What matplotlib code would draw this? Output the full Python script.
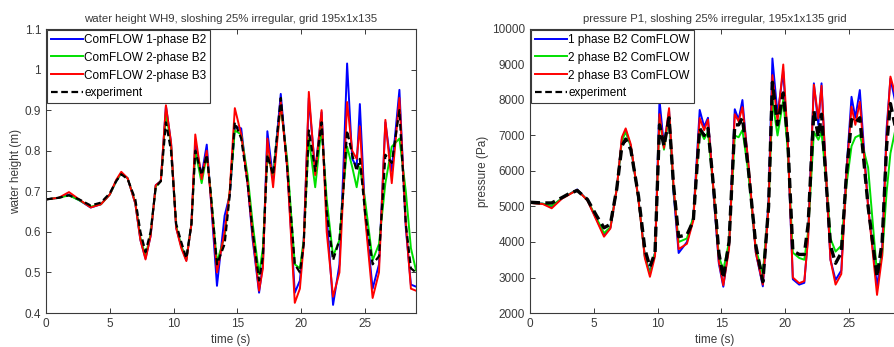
import numpy as np
import matplotlib
matplotlib.use("Agg")
import matplotlib.pyplot as plt
from matplotlib.ticker import FormatStrFormatter

plt.rcParams['font.family'] = ['Liberation Sans', 'DejaVu Sans']

# ---- water height WH9 (left panel) ----
t_wh = [0, 1, 1.8, 2.6, 3.5, 4.3, 5.0, 5.5, 5.9, 6.4, 7.0, 7.4, 7.8, 8.2, 8.6, 9.0,
        9.4, 9.8, 10.2, 10.6, 11.0, 11.4, 11.7, 12.2, 12.6, 12.9, 13.4, 14.0, 14.4,
        14.8, 15.3, 15.8, 16.2, 16.7, 17.0, 17.35, 17.8, 18.4, 18.9, 19.5, 19.9,
        20.2, 20.6, 21.1, 21.6, 22.0, 22.5, 23.0, 23.3, 23.6, 24.0, 24.35, 24.6,
        25.0, 25.6, 26.1, 26.6, 27.1, 27.7, 28.2, 28.6, 29.0]

wh_1ph_b2 = [0.680, 0.684, 0.692, 0.678, 0.660, 0.668, 0.692, 0.725, 0.745, 0.732,
             0.670, 0.580, 0.535, 0.590, 0.715, 0.725, 0.910, 0.820, 0.610, 0.565,
             0.530, 0.620, 0.820, 0.740, 0.815, 0.690, 0.467, 0.640, 0.690, 0.860,
             0.855, 0.720, 0.580, 0.450, 0.520, 0.848, 0.730, 0.940, 0.760, 0.450,
             0.480, 0.580, 0.930, 0.750, 0.895, 0.640, 0.420, 0.520, 0.750, 1.015,
             0.780, 0.760, 0.915, 0.650, 0.460, 0.520, 0.870, 0.750, 0.950, 0.610,
             0.470, 0.465]

wh_2ph_b2 = [0.680, 0.684, 0.690, 0.678, 0.662, 0.668, 0.692, 0.725, 0.745, 0.732,
             0.672, 0.585, 0.540, 0.595, 0.712, 0.725, 0.895, 0.815, 0.615, 0.565,
             0.532, 0.620, 0.800, 0.720, 0.790, 0.700, 0.525, 0.590, 0.700, 0.850,
             0.840, 0.740, 0.620, 0.495, 0.560, 0.790, 0.740, 0.910, 0.780, 0.520,
             0.510, 0.580, 0.830, 0.710, 0.860, 0.680, 0.540, 0.580, 0.700, 0.810,
             0.760, 0.710, 0.760, 0.680, 0.530, 0.570, 0.720, 0.810, 0.830, 0.700,
             0.560, 0.505]

wh_2ph_b3 = [0.680, 0.684, 0.698, 0.680, 0.660, 0.668, 0.692, 0.728, 0.748, 0.732,
             0.670, 0.580, 0.532, 0.590, 0.715, 0.725, 0.912, 0.820, 0.610, 0.560,
             0.528, 0.620, 0.840, 0.730, 0.800, 0.690, 0.500, 0.600, 0.700, 0.905,
             0.840, 0.720, 0.590, 0.455, 0.510, 0.830, 0.710, 0.920, 0.760, 0.425,
             0.460, 0.570, 0.945, 0.740, 0.900, 0.600, 0.440, 0.500, 0.700, 0.920,
             0.800, 0.780, 0.860, 0.640, 0.437, 0.500, 0.876, 0.720, 0.930, 0.620,
             0.460, 0.455]

wh_exp = [0.680, 0.684, 0.690, 0.680, 0.665, 0.672, 0.695, 0.725, 0.742, 0.730,
          0.680, 0.600, 0.550, 0.600, 0.710, 0.725, 0.870, 0.800, 0.620, 0.575,
          0.535, 0.620, 0.800, 0.740, 0.790, 0.700, 0.520, 0.570, 0.690, 0.870,
          0.830, 0.720, 0.600, 0.480, 0.540, 0.790, 0.740, 0.930, 0.760, 0.520,
          0.500, 0.570, 0.850, 0.750, 0.870, 0.650, 0.530, 0.580, 0.700, 0.850,
          0.790, 0.750, 0.780, 0.650, 0.520, 0.540, 0.790, 0.770, 0.900, 0.620,
          0.510, 0.500]

# ---- pressure P1 (right panel) ----
t_p = [0, 1.0, 1.7, 2.5, 3.0, 3.7, 4.5, 5.2, 5.8, 6.3, 6.8, 7.2, 7.5, 7.9, 8.5, 9.0,
       9.4, 9.8, 10.15, 10.5, 10.9, 11.25, 11.65, 12.3, 12.8, 13.3, 13.65, 13.95,
       14.4, 14.8, 15.15, 15.6, 16.05, 16.35, 16.65, 17.1, 17.7, 18.25, 18.7, 19.0,
       19.4, 19.85, 20.2, 20.6, 21.1, 21.5, 21.8, 22.25, 22.6, 22.85, 23.25, 23.55,
       23.95, 24.4, 24.8, 25.2, 25.5, 25.85, 26.5, 27.2, 27.6, 27.95, 28.25, 28.6, 29.0]

p_1ph_b2 = [5100, 5080, 5000, 5230, 5330, 5480, 5180, 4650, 4200, 4400, 5500, 6900,
            7150, 6700, 5200, 3600, 3150, 3700, 8000, 6700, 7700, 5400, 3690, 4000,
            4700, 7720, 7250, 7500, 5300, 3400, 2740, 3900, 7740, 7450, 8000, 6200,
            3700, 2750, 5200, 9170, 7600, 8800, 6800, 2950, 2800, 2850, 4200, 8470,
            7300, 8470, 5500, 3500, 2930, 3200, 6000, 8090, 7500, 8280, 5000, 2740,
            3800, 7200, 8600, 8000, 7600]

p_2ph_b2 = [5100, 5080, 5020, 5230, 5330, 5470, 5180, 4680, 4250, 4420, 5500, 6850,
            7100, 6700, 5200, 3600, 3100, 3700, 7500, 6600, 7600, 5500, 4000, 4100,
            4700, 7150, 6900, 7100, 5400, 3600, 3210, 4000, 7000, 6950, 7150, 6000,
            3800, 3100, 5000, 8000, 7000, 8000, 6600, 3700, 3550, 3500, 4300, 7100,
            6880, 7100, 5600, 4100, 3730, 3900, 5600, 6700, 6950, 7010, 6100, 3100,
            3600, 5400, 6500, 7100, 7200]

p_2ph_b3 = [5100, 5070, 4950, 5220, 5320, 5470, 5170, 4620, 4150, 4380, 5500, 6950,
            7200, 6750, 5200, 3550, 3020, 3600, 7600, 6650, 7770, 5600, 3800, 3950,
            4600, 7490, 7150, 7450, 5400, 3450, 2780, 3800, 7600, 7400, 7800, 6300,
            3700, 2800, 5000, 8700, 7400, 9000, 6900, 3000, 2840, 2900, 4100, 8430,
            7480, 8400, 5600, 3500, 2800, 3100, 5900, 7810, 7300, 7950, 5000, 2510,
            3600, 7000, 8660, 8200, 7700]

p_exp = [5120, 5100, 5100, 5250, 5350, 5450, 5200, 4750, 4400, 4500, 5500, 6700,
         6900, 6600, 5300, 3800, 3300, 3700, 7300, 6700, 7500, 5600, 4150, 4200,
         4600, 7200, 7000, 7200, 5500, 3700, 2980, 4000, 7300, 7300, 7500, 6100,
         3900, 2880, 5000, 8500, 7300, 8200, 6900, 3750, 3650, 3650, 4500, 7700,
         6950, 7600, 5500, 3900, 3400, 3700, 5900, 7450, 7350, 7500, 5000, 3020,
         4000, 6700, 7900, 7300, 7100]

labels_left = ['ComFLOW 1-phase B2', 'ComFLOW 2-phase B2', 'ComFLOW 2-phase B3', 'experiment']
labels_right = ['1 phase B2 ComFLOW', '2 phase B2 ComFLOW', '2 phase B3 ComFLOW', 'experiment']

fig = plt.figure(figsize=(8.94, 3.47), dpi=100)
ax1 = fig.add_axes([46 / 894, 34 / 347, 370 / 894, 284 / 347])
ax2 = fig.add_axes([530 / 894, 34 / 347, 370 / 894, 284 / 347])

axc = '#3a3a3a'
fs = 8.5


def draw(ax, t, series, labels, exp_lw):
    cols = ['#0000ff', '#00e000', '#ff0000']
    for s, c, lab in zip(series[:3], cols, labels[:3]):
        ax.plot(t, s, color=c, lw=1.4, label=lab)
    ax.plot(t, series[3], color='black', lw=exp_lw, dashes=(3, 1.6), label=labels[3])
    leg = ax.legend(loc='upper left', borderaxespad=0.1, fontsize=fs, fancybox=False,
                    framealpha=1, handlelength=2.7, handletextpad=0.15,
                    borderpad=0.3, labelspacing=0.5)
    leg.get_frame().set_edgecolor(axc)
    leg.get_frame().set_linewidth(0.8)
    for h in leg.get_lines()[3:]:
        h.set_linewidth(1.6)
    ax.set_xlim(0, 29)
    ax.set_xticks([0, 5, 10, 15, 20, 25])
    ax.tick_params(direction='in', top=True, right=True, length=3.5, width=0.7,
                   labelsize=fs, colors=axc)
    for sp in ax.spines.values():
        sp.set_color(axc)
        sp.set_linewidth(0.8)
    ax.set_xlabel('time (s)', fontsize=fs, color=axc, labelpad=3)


draw(ax1, t_wh, [wh_1ph_b2, wh_2ph_b2, wh_2ph_b3, wh_exp], labels_left, 1.6)
ax1.set_ylim(0.4, 1.1)
ax1.set_yticks(np.arange(0.4, 1.15, 0.1))
ax1.yaxis.set_major_formatter(FormatStrFormatter('%g'))
ax1.set_ylabel('water height (m)', fontsize=fs, color=axc, labelpad=2)
ax1.set_title('water height WH9, sloshing 25% irregular, grid 195x1x135', fontsize=8.2,
              color=axc, pad=5)

draw(ax2, t_p, [p_1ph_b2, p_2ph_b2, p_2ph_b3, p_exp], labels_right, 2.4)
ax2.set_ylim(2000, 10000)
ax2.set_yticks(range(2000, 10001, 1000))
ax2.set_ylabel('pressure (Pa)', fontsize=fs, color=axc, labelpad=2)
ax2.set_title('pressure P1, sloshing 25% irregular, 195x1x135 grid', fontsize=8.2,
              color=axc, pad=5)

fig.savefig('out.png', dpi=100)
